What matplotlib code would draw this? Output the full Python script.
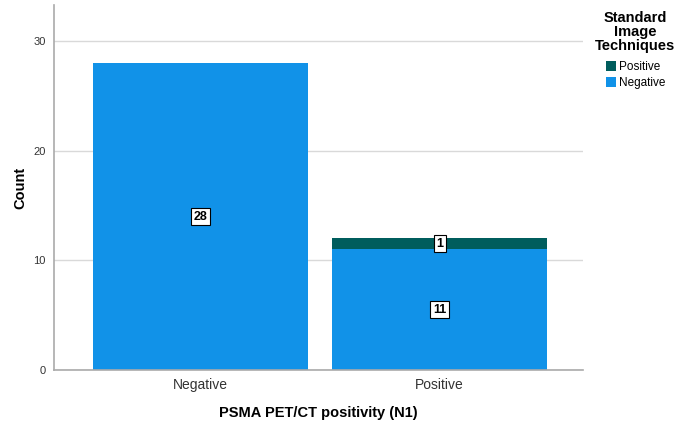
import numpy as np
import matplotlib.pyplot as plt

plt.rcParams['font.family'] = ['Liberation Sans', 'DejaVu Sans']

categories = ["Negative", "Positive"]
neg_counts = [28, 11]
pos_counts = [0, 1]
series_names = ["Positive", "Negative"]

blue = "#1192E8"
teal = "#005D5D"

fig = plt.figure(figsize=(6.76, 4.22), dpi=100)
ax = fig.add_axes([0.0799, 0.1232, 0.7825, 0.8648])

x = np.arange(len(categories))
ax.set_axisbelow(True)
ax.yaxis.grid(True, color="#d9d9d9", linewidth=1)
b_neg = ax.bar(x, neg_counts, width=0.9, color=blue, label=series_names[1])
b_pos = ax.bar(x, pos_counts, width=0.9, bottom=neg_counts, color=teal, label=series_names[0])

box = dict(boxstyle="square,pad=0.2", facecolor="white", edgecolor="black", linewidth=0.8)
for i in range(len(categories)):
    if neg_counts[i] > 0:
        ax.text(x[i], neg_counts[i] / 2, str(neg_counts[i]), ha="center", va="center",
                fontsize=9, fontweight="bold", bbox=box)
    if pos_counts[i] > 0:
        ax.text(x[i], neg_counts[i] + pos_counts[i] / 2, str(pos_counts[i]), ha="center",
                va="center", fontsize=9, fontweight="bold", bbox=box)

ax.set_xlim(-0.613, 1.60)
ax.set_ylim(0, 33.3)
ax.set_xticks(x)
ax.set_xticklabels(categories, fontsize=10, color="#333333")
ax.set_yticks([0, 10, 20, 30])
ax.tick_params(axis="y", labelsize=8, colors="#333333", length=0, pad=6)
ax.tick_params(axis="x", length=0, pad=6)
for s in ["top", "right"]:
    ax.spines[s].set_visible(False)
for s in ["left", "bottom"]:
    ax.spines[s].set_color("#aaaaaa")
    ax.spines[s].set_linewidth(1.2)

ax.set_xlabel("PSMA PET/CT positivity (N1)", fontsize=10.5, fontweight="bold", labelpad=10)
ax.set_ylabel("Count", fontsize=10.5, fontweight="bold", labelpad=4)

leg = fig.legend(handles=[b_pos, b_neg], labels=series_names,
                 title="Standard\nImage\nTechniques", loc="upper right",
                 bbox_to_anchor=(1.006, 0.985), frameon=False, fontsize=8.5,
                 handlelength=0.9, handleheight=0.9, handletextpad=0.2,
                 borderaxespad=0, labelspacing=0.3)
leg.get_title().set_fontweight("bold")
leg.get_title().set_fontsize(10.5)
leg.get_title().set_multialignment("center")
leg.get_title().set_linespacing(1.0)
leg._legend_box.sep = 6

fig.savefig("out.png", dpi=100)
